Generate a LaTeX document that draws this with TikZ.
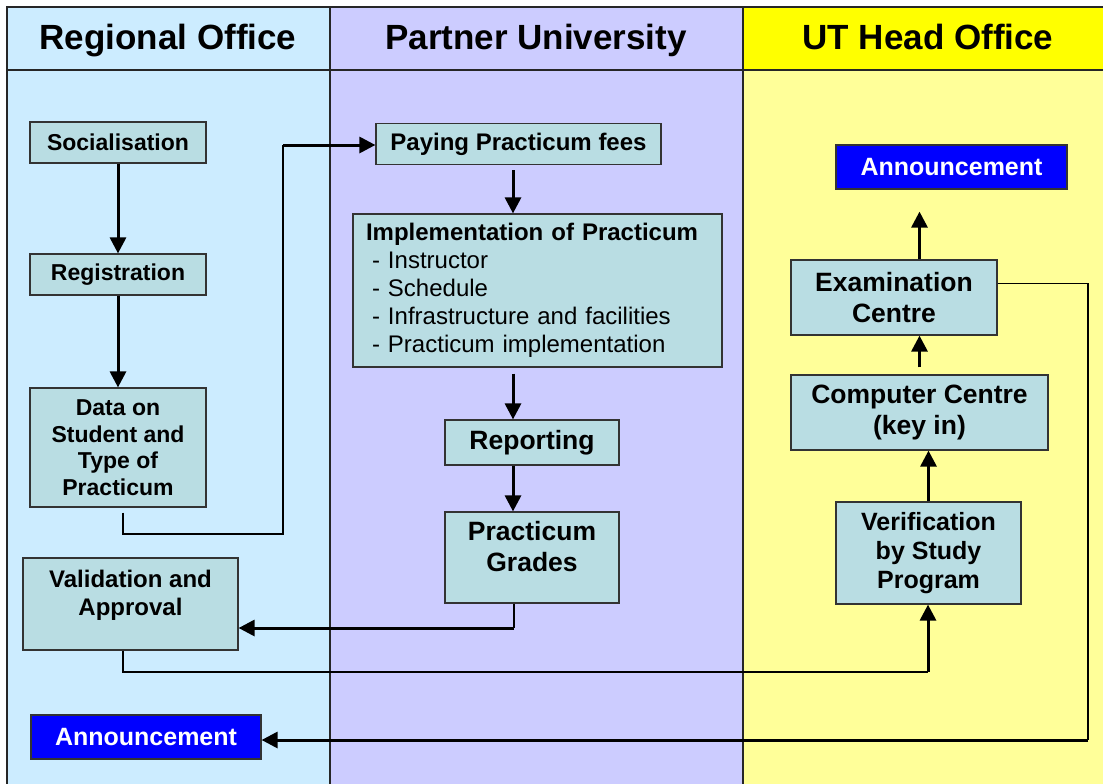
\documentclass[tikz,border=0pt]{standalone}
\usepackage{fontspec}
\setmainfont{Liberation Sans}
\usetikzlibrary{arrows.meta, positioning, calc}
\definecolor{regionblue}{HTML}{CCECFF}
\definecolor{partnerlilac}{HTML}{CCCCFF}
\definecolor{headyellow}{HTML}{FFFF00}
\definecolor{headpale}{HTML}{FFFF99}
\definecolor{boxteal}{HTML}{B9DDE3}
\definecolor{noticeblue}{HTML}{0000FF}
\tikzset{
  laneline/.style={draw=black!85, line width=2pt},
  lanehead/.style={anchor=base, font=\fontsize{35}{40}\selectfont\bfseries},
  stepbox/.style={rectangle, draw=black!80, fill=boxteal, line width=1.2pt,
                  align=center, inner sep=2pt,
                  font=\fontsize{23}{26.5}\selectfont\bfseries},
  bigstep/.style={stepbox, font=\fontsize{26.5}{31}\selectfont\bfseries},
  notice/.style={rectangle, draw=black!80, fill=noticeblue, line width=1.2pt,
                 text=white, font=\fontsize{25}{28}\selectfont\bfseries},
  flow/.style={-{Triangle[length=16pt,width=16pt]}, line width=3pt},
  link/.style={line width=1.3pt},
}

\begin{document}
\begin{tikzpicture}[x=1pt, y=-1pt]
  \useasboundingbox (0,0) rectangle (1103,784);

  % swimlanes
  \fill[regionblue]   (7,7)    rectangle (330,784);
  \fill[partnerlilac] (330,7)  rectangle (743,784);
  \fill[headyellow]   (743,7)  rectangle (1103,70);
  \fill[headpale]     (743,70) rectangle (1103,784);
  \draw[laneline] (1103,7) -- (7,7) -- (7,784);
  \draw[laneline] (7,70) -- (1103,70);
  \draw[laneline] (330,7) -- (330,784);
  \draw[laneline] (743,7) -- (743,784);

  \node[lanehead] (hregion)  at (168,50) {Regional Office};
  \node[lanehead] (hpartner) at (536,50) {Partner University};
  \node[lanehead] (hut)      at (928,50) {UT Head Office};

  % Regional Office
  \node[stepbox, minimum width=176pt, minimum height=41pt] (soc) at (118,142.5) {Socialisation};
  \node[stepbox, minimum width=176pt, minimum height=41pt] (reg) at (118,274.5) {Registration};
  \node[stepbox, minimum width=176pt, minimum height=119pt] (data) at (118,447.5)
       {Data on\\Student and\\Type of\\Practicum};
  \node[stepbox, minimum width=215pt, minimum height=92pt,
        font=\fontsize{24}{28}\selectfont\bfseries] (valid) at (130.5,604)
       {Validation and\\Approval\\[-6pt]\mbox{}};
  \node[notice, minimum width=230pt, minimum height=44pt] (annL) at (146,737) {Announcement};

  % Partner University
  \node[stepbox, minimum width=285pt, minimum height=41pt,
        font=\fontsize{24}{28}\selectfont\bfseries] (pay) at (518.5,144) {Paying Practicum fees};
  \node[stepbox, minimum height=153pt, inner xsep=13pt, text width=343pt, align=left,
        font=\fontsize{24}{28}\selectfont] (impl) at (537.5,290.5)
       {\textbf{Implementation of Practicum}\\
        \hspace*{6pt}- Instructor\\
        \hspace*{6pt}- Schedule\\
        \hspace*{6pt}- Infrastructure and facilities\\
        \hspace*{6pt}- Practicum implementation};
  \node[bigstep, minimum width=174pt, minimum height=45pt] (rep) at (532,442.5) {Reporting};
  \node[bigstep, minimum width=174pt, minimum height=91pt] (grade) at (532,557.5)
       {Practicum\\Grades\\[-8pt]\mbox{}};

  % UT Head Office
  \node[notice, minimum width=231pt, minimum height=44pt] (annR) at (951.5,167) {Announcement};
  \node[bigstep, minimum width=206pt, minimum height=75pt] (exam) at (894,297.5)
       {Examination\\Centre};
  \node[bigstep, minimum width=257pt, minimum height=75pt] (comp) at (919.5,412.5)
       {Computer Centre\\(key in)};
  \node[stepbox, minimum width=185pt, minimum height=102pt,
        font=\fontsize{25}{29}\selectfont\bfseries] (verif) at (928.5,553)
       {Verification\\by Study\\Program};

  % bend points
  \coordinate (spine) at (513,0);
  \coordinate (dturn) at (283,534);
  \coordinate (gturn) at (514,628);
  \coordinate (vturn) at (928,672);
  \coordinate (eturn) at (1088,740);

  % flow arrows
  \draw[flow] (soc.south) -- (reg.north);
  \draw[flow] (reg.south) -- (data.north);
  \draw[link] ([xshift=5pt,yshift=-5pt]data.south) |- (dturn) -- (dturn |- 0,145);
  \draw[flow] (dturn |- 0,145) -- (pay.west |- 0,145);
  \draw[flow] ([yshift=-5pt]pay.south -| spine) -- (impl.north -| spine);
  \draw[flow] ([yshift=-6pt]impl.south -| spine) -- (rep.north -| spine);
  \draw[flow] (rep.south -| spine) -- (grade.north -| spine);
  \draw[link] (grade.south -| gturn) -- (gturn);
  \draw[flow] (gturn) -- (gturn -| valid.east);
  \draw[link] ([xshift=-7.5pt]valid.south) |- (vturn);
  \draw[flow] (vturn) -- (vturn |- verif.south);
  \draw[flow] (verif.north) -- (verif.north |- comp.south);
  \draw[flow] ([yshift=7pt]comp.north) -- (comp.north |- exam.south);
  \draw[flow] (comp.north |- exam.north) -- ([yshift=-22pt]comp.north |- annR.south);
  \draw[link] ([yshift=14pt]exam.east) -| (eturn);
  \draw[flow] (eturn) -- (eturn -| annL.east);
\end{tikzpicture}
\end{document}
